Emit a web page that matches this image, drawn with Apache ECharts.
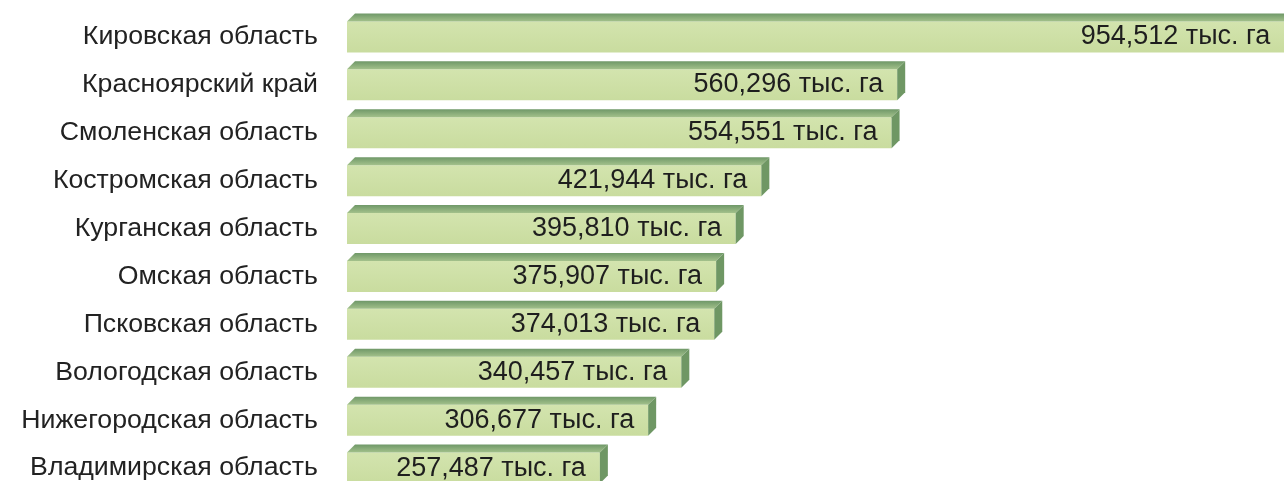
<!DOCTYPE html>
<html>
<head>
<meta charset="utf-8">
<script src="https://cdn.jsdelivr.net/npm/echarts@6/dist/echarts.min.js"></script>
<style>
  html, body { margin: 0; padding: 0; background: #fff; }
  #chart { width: 1284px; height: 481px; }
</style>
</head>
<body>
<div id="chart"></div>
<script>
const regions = [
  'Кировская область',
  'Красноярский край',
  'Смоленская область',
  'Костромская область',
  'Курганская область',
  'Омская область',
  'Псковская область',
  'Вологодская область',
  'Нижегородская область',
  'Владимирская область'
]
const areas = [954.512, 560.296, 554.551, 421.944, 395.810, 375.907, 374.013, 340.457, 306.677, 257.487]
const unit = 'тыс. га'

const FONT = '"Liberation Sans", Arial, sans-serif'
const FRONT_H = 31
const DEPTH = 8

const fmt = v => v.toFixed(3).replace('.', ',') + ' ' + unit

// 3d-ish bar: front face, top face, right side face + value label
const renderItem = (params, api) => {
  const idx = api.value(1)
  const end = api.coord([api.value(0), idx])
  const start = api.coord([0, idx])
  const x0 = start[0]
  const x1 = end[0]
  const yt = end[1] - FRONT_H / 2
  const yb = yt + FRONT_H
  return {
    type: 'group',
    children: [
      {
        type: 'rect',
        shape: { x: x0, y: yt, width: x1 - x0, height: FRONT_H },
        style: {
          fill: new echarts.graphic.LinearGradient(0, 0, 0, 1, [
            { offset: 0, color: '#d3e4ae' },
            { offset: 1, color: '#c9dc9f' }
          ])
        }
      },
      {
        type: 'polygon',
        shape: { points: [[x0, yt], [x0 + DEPTH, yt - DEPTH], [x1 + DEPTH, yt - DEPTH], [x1, yt]] },
        style: {
          fill: new echarts.graphic.LinearGradient(0, 0, 0, 1, [
            { offset: 0, color: '#6f9868' },
            { offset: 1, color: '#a3c18b' }
          ])
        }
      },
      {
        type: 'polygon',
        shape: { points: [[x1, yt], [x1 + DEPTH, yt - DEPTH], [x1 + DEPTH, yb - DEPTH], [x1, yb]] },
        style: { fill: '#6f9764' }
      },
      {
        type: 'text',
        x: x1 - 14,
        y: end[1],
        style: {
          text: fmt(api.value(0)),
          align: 'right',
          verticalAlign: 'middle',
          fill: '#1e1e1e',
          font: '27px ' + FONT
        }
      }
    ]
  }
}

const chart = echarts.init(document.getElementById('chart'))

chart.setOption({
  backgroundColor: '#ffffff',
  animation: false,
  grid: {
    left: 347,
    top: 13,
    width: 982,
    height: 479,
    outerBoundsMode: 'none'
  },
  xAxis: {
    type: 'value',
    min: 0,
    max: 1000,
    show: false
  },
  yAxis: {
    type: 'category',
    data: regions,
    inverse: true,
    axisLine: { show: false },
    axisTick: { show: false },
    splitLine: { show: false },
    axisLabel: {
      margin: 29,
      fontSize: 26.7,
      fontFamily: FONT,
      color: '#222',
      padding: [9, 0, 0, 0]
    }
  },
  series: [
    {
      type: 'custom',
      renderItem: renderItem,
      encode: { x: 0, y: 1 },
      clip: false,
      data: areas.map((v, i) => [v, i])
    }
  ]
})

window.addEventListener('resize', () => chart.resize())
</script>
</body>
</html>
